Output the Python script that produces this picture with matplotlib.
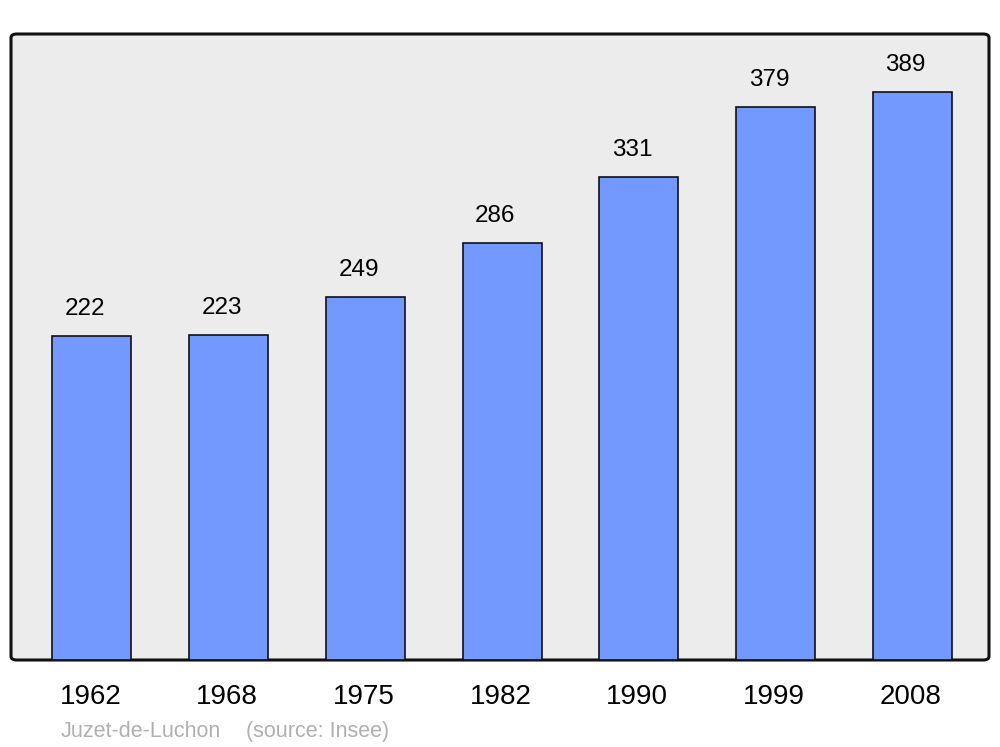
import matplotlib
matplotlib.use("Agg")
import matplotlib.pyplot as plt
from matplotlib.patches import FancyBboxPatch

years = ["1962", "1968", "1975", "1982", "1990", "1999", "2008"]
population = [222, 223, 249, 286, 331, 379, 389]
commune = "Juzet-de-Luchon"
source = "(source: Insee)"

plt.rcParams['font.family'] = ['Liberation Sans', 'DejaVu Sans']

fig = plt.figure(figsize=(10, 7.47), dpi=100)
ax = fig.add_axes([0.011, 1 - 660/747, 0.978, 626/747])
ax.set_facecolor('none')

# rounded frame
frame = FancyBboxPatch((0, 0), 1, 1,
                       boxstyle="round,pad=0,rounding_size=0.006",
                       transform=ax.transAxes, facecolor='#ececec',
                       edgecolor='#111111', linewidth=2.2, zorder=0,
                       clip_on=False)
ax.add_patch(frame)

x = list(range(len(years)))
ax.bar(x, population, width=0.578, color='#7399ff', edgecolor='#111111',
       linewidth=1.2, zorder=2)
for xi, v in zip(x, population):
    ax.text(xi - 0.05, v + 11, str(v), ha='center', va='bottom', fontsize=17.5, color='black')

ax.set_xlim(-0.592, 6.56)
ax.set_ylim(0, 429)
for s in ax.spines.values():
    s.set_visible(False)
ax.set_yticks([])
ax.set_xticks([xi - 0.012 for xi in x])
ax.set_xticklabels(years, fontsize=20)
ax.tick_params(axis='x', length=0, pad=17)

fig.text(61/1000, 1 - 737/747, commune, fontsize=15.5, color='#b0b0b0', va='baseline', ha='left')
fig.text(246/1000, 1 - 737/747, source, fontsize=15.5, color='#b0b0b0', va='baseline', ha='left')

fig.savefig("out.png", dpi=100)
